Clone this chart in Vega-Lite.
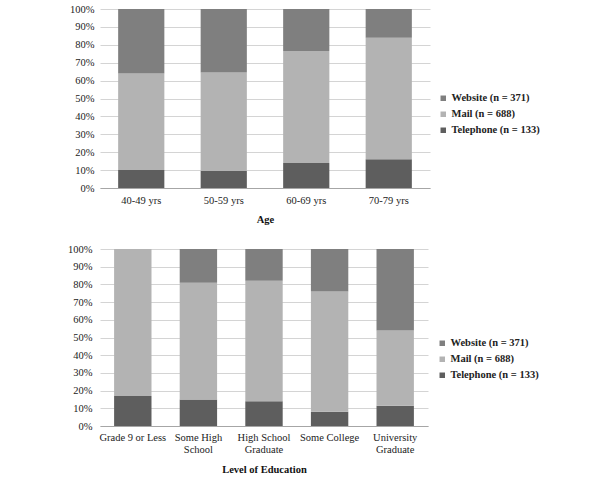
{
  "$schema": "https://vega.github.io/schema/vega-lite/v6.json",
  "background": "white",
  "padding": {"left": 67, "top": 4, "right": 5, "bottom": 5},
  "spacing": 19,
  "config": {
    "view": {"stroke": null},
    "font": "Liberation Serif",
    "axis": {"labelFont": "Liberation Serif", "labelFontSize": 10.5, "labelColor": "#222", "titleFont": "Liberation Serif", "titleFontSize": 10.5, "titleFontWeight": "bold", "titleColor": "#111"},
    "legend": {"labelFont": "Liberation Serif", "labelFontSize": 10.5, "labelFontWeight": "bold", "labelColor": "#222", "symbolType": "square", "symbolSize": 30, "symbolStrokeWidth": 0, "rowPadding": 5, "labelOffset": 3}
  },
  "resolve": {"scale": {"color": "shared"}, "legend": {"color": "independent"}},
  "vconcat": [
    {
      "width": 330,
      "height": 179,
      "data": {"values": [
        {"group": "40-49 yrs", "mode": "Telephone (n = 133)", "rank": 1, "pct": 10},
        {"group": "40-49 yrs", "mode": "Mail (n = 688)", "rank": 2, "pct": 54},
        {"group": "40-49 yrs", "mode": "Website (n = 371)", "rank": 3, "pct": 36},
        {"group": "50-59 yrs", "mode": "Telephone (n = 133)", "rank": 1, "pct": 9.5},
        {"group": "50-59 yrs", "mode": "Mail (n = 688)", "rank": 2, "pct": 55},
        {"group": "50-59 yrs", "mode": "Website (n = 371)", "rank": 3, "pct": 35.5},
        {"group": "60-69 yrs", "mode": "Telephone (n = 133)", "rank": 1, "pct": 14},
        {"group": "60-69 yrs", "mode": "Mail (n = 688)", "rank": 2, "pct": 62.5},
        {"group": "60-69 yrs", "mode": "Website (n = 371)", "rank": 3, "pct": 23.5},
        {"group": "70-79 yrs", "mode": "Telephone (n = 133)", "rank": 1, "pct": 16},
        {"group": "70-79 yrs", "mode": "Mail (n = 688)", "rank": 2, "pct": 68},
        {"group": "70-79 yrs", "mode": "Website (n = 371)", "rank": 3, "pct": 16}
      ]},
      "mark": {"type": "bar"},
      "encoding": {
        "x": {"field": "group", "type": "nominal", "sort": null, "title": "Age",
              "scale": {"paddingInner": 0.44, "paddingOuter": 0.22},
              "axis": {"labelAngle": 0, "ticks": false, "labelPadding": 7, "titlePadding": 9, "domainColor": "#a6a6a6", "grid": false}},
        "y": {"field": "pct", "type": "quantitative", "stack": "zero", "title": null,
              "scale": {"domain": [0, 100]},
              "axis": {"values": [0,10,20,30,40,50,60,70,80,90,100], "labelExpr": "datum.value + '%'", "domain": false, "ticks": false, "labelPadding": 6, "gridColor": "#d4d4d4"}},
        "color": {"field": "mode", "type": "nominal", "title": null,
                  "scale": {"domain": ["Website (n = 371)", "Mail (n = 688)", "Telephone (n = 133)"], "range": ["#7f7f7f", "#b3b3b3", "#5e5e5e"]},
                  "legend": {"orient": "none", "legendX": 338, "legendY": 84}},
        "order": {"field": "rank", "type": "quantitative"}
      }
    },
    {
      "width": 328,
      "height": 177,
      "data": {"values": [
        {"group": "Grade 9 or Less", "mode": "Telephone (n = 133)", "rank": 1, "pct": 17},
        {"group": "Grade 9 or Less", "mode": "Mail (n = 688)", "rank": 2, "pct": 83},
        {"group": "Grade 9 or Less", "mode": "Website (n = 371)", "rank": 3, "pct": 0},
        {"group": "Some High School", "mode": "Telephone (n = 133)", "rank": 1, "pct": 15},
        {"group": "Some High School", "mode": "Mail (n = 688)", "rank": 2, "pct": 66},
        {"group": "Some High School", "mode": "Website (n = 371)", "rank": 3, "pct": 19},
        {"group": "High School Graduate", "mode": "Telephone (n = 133)", "rank": 1, "pct": 14},
        {"group": "High School Graduate", "mode": "Mail (n = 688)", "rank": 2, "pct": 68},
        {"group": "High School Graduate", "mode": "Website (n = 371)", "rank": 3, "pct": 18},
        {"group": "Some College", "mode": "Telephone (n = 133)", "rank": 1, "pct": 8},
        {"group": "Some College", "mode": "Mail (n = 688)", "rank": 2, "pct": 68},
        {"group": "Some College", "mode": "Website (n = 371)", "rank": 3, "pct": 24},
        {"group": "University Graduate", "mode": "Telephone (n = 133)", "rank": 1, "pct": 11.5},
        {"group": "University Graduate", "mode": "Mail (n = 688)", "rank": 2, "pct": 42.5},
        {"group": "University Graduate", "mode": "Website (n = 371)", "rank": 3, "pct": 46}
      ]},
      "mark": {"type": "bar"},
      "encoding": {
        "x": {"field": "group", "type": "nominal", "sort": null, "title": "Level of Education",
              "scale": {"paddingInner": 0.43, "paddingOuter": 0.215},
              "axis": {"labelAngle": 0, "ticks": false, "labelPadding": 6, "titlePadding": 10, "domainColor": "#a6a6a6", "grid": false,
                       "labelExpr": "datum.label == 'Some High School' ? ['Some High', 'School'] : datum.label == 'High School Graduate' ? ['High School', 'Graduate'] : datum.label == 'University Graduate' ? ['University', 'Graduate'] : datum.label",
                       "labelLineHeight": 12}},
        "y": {"field": "pct", "type": "quantitative", "stack": "zero", "title": null,
              "scale": {"domain": [0, 100]},
              "axis": {"values": [0,10,20,30,40,50,60,70,80,90,100], "labelExpr": "datum.value + '%'", "domain": false, "ticks": false, "labelPadding": 8, "gridColor": "#d4d4d4"}},
        "color": {"field": "mode", "type": "nominal", "title": null,
                  "scale": {"domain": ["Website (n = 371)", "Mail (n = 688)", "Telephone (n = 133)"], "range": ["#7f7f7f", "#b3b3b3", "#5e5e5e"]},
                  "legend": {"orient": "none", "legendX": 337, "legendY": 89}},
        "order": {"field": "rank", "type": "quantitative"}
      }
    }
  ]
}
